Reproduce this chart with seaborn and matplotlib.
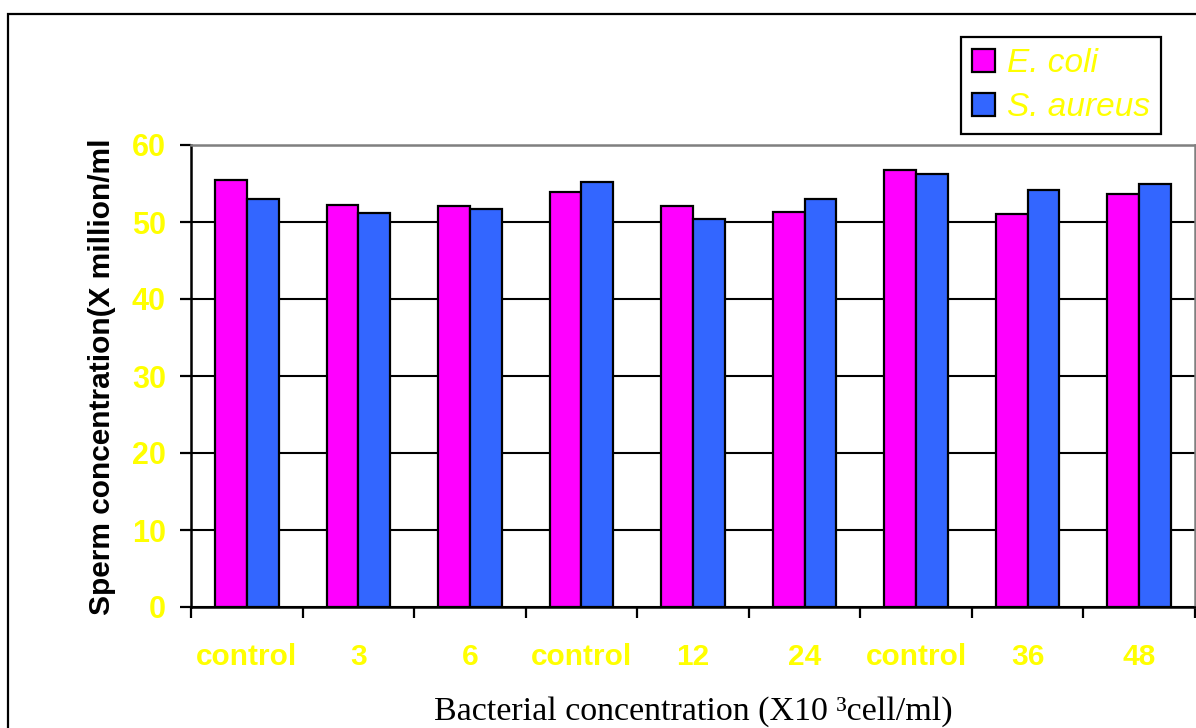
import matplotlib
matplotlib.use("Agg")
import matplotlib.pyplot as plt
import seaborn as sns
import pandas as pd
import numpy as np
from matplotlib.patches import Rectangle

categories = ["control", "3", "6", "control", "12", "24", "control", "36", "48"]
ecoli = [55.4, 52.2, 52.1, 53.9, 52.1, 51.3, 56.8, 51.0, 53.7]
saureus = [53.0, 51.2, 51.7, 55.2, 50.4, 53.0, 56.2, 54.2, 54.9]
series_names = ["E. coli", "S. aureus"]
colors = ["#FF00FF", "#3366FF"]
yticks = [0, 10, 20, 30, 40, 50, 60]

sns.set_theme(style="white")
plt.rcParams['font.family'] = ['Liberation Sans', 'DejaVu Sans']

idx = [f"g{i}" for i in range(len(categories))]
df = pd.DataFrame({
    "group": idx * 2,
    "value": ecoli + saureus,
    "organism": [series_names[0]] * len(idx) + [series_names[1]] * len(idx),
})

fig = plt.figure(figsize=(11.96, 7.28), dpi=100)
ax = fig.add_axes([191 / 1196, 1 - 607 / 728, (1195 - 191) / 1196, (607 - 145) / 728])

sns.barplot(data=df, x="group", y="value", hue="organism", order=idx,
            hue_order=series_names, palette=colors, width=0.57, gap=0,
            edgecolor="black", linewidth=1.6, saturation=1, ax=ax, legend=True,
            errorbar=None)

ax.set_ylim(0, 60)
ax.set_xlim(-0.5, len(categories) - 0.5)
ax.set_yticks(yticks)
ax.set_yticklabels([str(t) for t in yticks], fontsize=22, fontweight="bold", color="#FFFF00")
ax.set_xticks(range(len(categories)))
ax.set_xticklabels(categories, fontsize=21.5, fontweight="bold", color="#FFFF00")
ax.set_xticks(np.arange(-0.5, len(categories), 1.0), minor=True)
ax.tick_params(axis="x", which="major", length=0, pad=26)
ax.tick_params(axis="x", which="minor", length=8, width=1.6, color="black", direction="out", bottom=True)
ax.tick_params(axis="y", which="major", length=8, width=1.6, color="black", direction="out", left=True, pad=10)

ax.set_axisbelow(True)
ax.yaxis.grid(True, color="black", linewidth=1.5)
ax.xaxis.grid(False)

for side in ["left", "bottom"]:
    ax.spines[side].set_color("black")
    ax.spines[side].set_linewidth(1.8)
for side in ["top", "right"]:
    ax.spines[side].set_color("#808080")
    ax.spines[side].set_linewidth(1.8)
    ax.spines[side].set_visible(True)

ax.set_xlabel("")
ax.set_ylabel("")
fig.text(102 / 1196, 1 - 377 / 728, "Sperm concentration(X million/ml", rotation=90,
         fontsize=21.5, fontweight="bold", color="black", ha="center", va="center")
fig.text(693 / 1196, 1 - 712 / 728, "Bacterial concentration (X10 \u00b3cell/ml)",
         fontsize=24.5, color="black", ha="center", va="center",
         family=["Liberation Serif", "DejaVu Serif"])

ax.get_legend().remove()
handles, labels = ax.get_legend_handles_labels()
leg = fig.legend(handles[:2], labels[:2], loc="upper right",
                 bbox_to_anchor=(1161 / 1196, 1 - 37 / 728), bbox_transform=fig.transFigure,
                 prop={"size": 24, "style": "italic"}, frameon=True, fancybox=False,
                 framealpha=1, edgecolor="black", handlelength=0.7, handleheight=0.7,
                 handletextpad=0.35, labelspacing=0.4, borderpad=0.33, borderaxespad=0)
leg.get_frame().set_linewidth(1.6)
for t in leg.get_texts():
    t.set_color("#FFFF00")

frame = Rectangle((8 / 1196, -0.1), 1.2, 1 - 14 / 728 + 0.1, transform=fig.transFigure,
                  fill=False, edgecolor="black", linewidth=1.6, clip_on=False)
fig.patches.append(frame)

fig.savefig("out.png", dpi=100)
